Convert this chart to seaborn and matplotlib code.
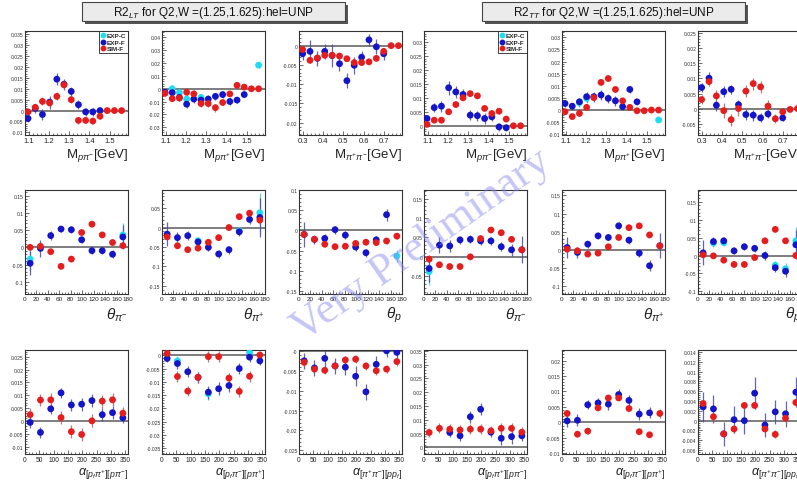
import numpy as np
import pandas as pd
import matplotlib
matplotlib.use('Agg')
import matplotlib.pyplot as plt
import seaborn as sns
from matplotlib import font_manager
from matplotlib.lines import Line2D
from matplotlib.patches import Rectangle
from matplotlib.ticker import MultipleLocator, AutoMinorLocator, FuncFormatter

# ---- bins ----
m_ppi_bins = [1.097, 1.1325, 1.168, 1.2035, 1.239, 1.2745, 1.31, 1.3455, 1.381, 1.4165, 1.452, 1.4875, 1.523, 1.5585]
m_pipi_bins = [0.298, 0.3345, 0.371, 0.4075, 0.444, 0.4805, 0.517, 0.5535, 0.59, 0.6265, 0.663, 0.6995, 0.736, 0.7725]
theta_bins = [9, 27, 45, 63, 81, 99, 117, 135, 153, 171]
alpha_bins = [18, 54, 90, 126, 162, 198, 234, 270, 306, 342]

# ---- R2_LT, M(p pi-) ----
lt_mpim_f = [-0.0036, 0.001, -0.0018, 0.0039, 0.0144, 0.0121, 0.0088, 0.0027, -0.0006, -0.0006, 0.0, None, None, None]
lt_mpim_f_err = [0.0015, 0.002, 0.0025, 0.003, 0.0028, 0.0025, 0.002, 0.002, 0.0018, 0.0018, 0.0015, 0, 0, 0]
lt_mpim_sim = [-0.0006, 0.0015, 0.0042, 0.0035, 0.0065, 0.0118, 0.005, -0.0045, -0.0045, -0.0048, -0.0026, 0.0, 0.0, 0.0]
lt_mpim_sim_err = [0.001, 0.0015, 0.0018, 0.002, 0.0018, 0.0018, 0.0015, 0.0015, 0.0012, 0.0015, 0.0012, 0.0005, 0.0003, 0.0003]
lt_mpim_c = [None] * 14

# ---- R2_LT, M(p pi+) ----
lt_mpip_f = [-0.0027, -0.003, -0.0067, -0.012, -0.008, -0.0088, -0.008, -0.0059, -0.0045, -0.0099, -0.0088, -0.0045, None, None]
lt_mpip_f_err = [0.002, 0.003, 0.003, 0.003, 0.003, 0.003, 0.003, 0.003, 0.003, 0.003, 0.002, 0.002, 0, 0.002]
lt_mpip_sim = [-0.0035, -0.0077, -0.0072, -0.0027, -0.004, -0.0115, -0.0115, -0.0147, -0.0107, -0.004, 0.0027, 0.0013, 0.0, 0.0]
lt_mpip_sim_err = [0.002, 0.002, 0.002, 0.003, 0.003, 0.003, 0.003, 0.003, 0.002, 0.002, 0.0015, 0.001, 0.0005, 0.0005]
lt_mpip_c = [None, 0.0, -0.003, -0.008, None, -0.0067, None, None, None, None, None, None, None, 0.0184]

# ---- R2_LT, M(pi+ pi-) ----
lt_mpipi_f = [-0.0021, -0.0015, -0.0033, -0.0015, -0.0026, -0.0047, -0.0091, -0.0051, -0.003, 0.0015, -0.0003, -0.0021, None, None]
lt_mpipi_f_err = [0.0015, 0.003, 0.002, 0.002, 0.003, 0.002, 0.002, 0.0022, 0.0015, 0.0015, 0.002, 0.0015, 0, 0]
lt_mpipi_sim = [-0.001, -0.0038, -0.0032, -0.0025, -0.0025, -0.0027, -0.0034, -0.0044, -0.0044, -0.0042, -0.0033, -0.0015, 0.0, 0.0]
lt_mpipi_sim_err = [0.001, 0.0008, 0.0008, 0.0008, 0.0008, 0.0006, 0.0006, 0.0006, 0.0006, 0.0006, 0.0006, 0.0008, 0.0003, 0.0003]
lt_mpipi_c = [None] * 14

# ---- R2_TT, M(p pi-) ----
tt_mpim_f = [0.0026, 0.0065, 0.007, 0.0136, 0.0121, 0.0112, 0.0038, 0.0036, 0.0026, 0.0032, -0.0004, -0.0007, None, None]
tt_mpim_f_err = [0.0012, 0.0015, 0.002, 0.0025, 0.0022, 0.002, 0.0018, 0.0018, 0.0018, 0.0015, 0.0015, 0.0012, 0, 0]
tt_mpim_sim = [0.0005, 0.002, 0.002, 0.005, 0.0076, 0.01, 0.0115, 0.0107, 0.0062, 0.0044, 0.0052, 0.0024, 0.0, 0.0]
tt_mpim_sim_err = [0.0005, 0.0006, 0.0006, 0.0008, 0.0008, 0.0008, 0.0007, 0.0007, 0.0007, 0.0007, 0.0007, 0.0006, 0.0003, 0.0003]
tt_mpim_c = [None] * 14

# ---- R2_TT, M(p pi+) ----
tt_mpip_f = [0.0027, 0.0016, 0.0034, 0.0055, 0.0055, 0.0062, 0.0048, 0.0038, 0.0014, 0.0085, 0.0034, None, None, None]
tt_mpip_f_err = [0.0015, 0.0015, 0.0017, 0.002, 0.002, 0.002, 0.002, 0.002, 0.0015, 0.0015, 0.0012, 0, 0, 0.0008]
tt_mpip_sim = [-0.0007, -0.0027, -0.0014, 0.0011, 0.0051, 0.0114, 0.013, 0.0085, 0.0038, 0.0011, -0.0003, -0.0003, 0.0, 0.0]
tt_mpip_sim_err = [0.0008, 0.0008, 0.001, 0.001, 0.001, 0.001, 0.0009, 0.001, 0.0009, 0.0008, 0.0006, 0.0005, 0.0003, 0.0003]
tt_mpip_c = [None, None, 0.003, 0.0048, None, None, None, None, None, None, None, None, None, -0.0041]

# ---- R2_TT, M(pi+ pi-) ----
tt_mpipi_f = [0.007, 0.0101, 0.0011, 0.0056, 0.0064, 0.0013, -0.002, -0.0022, -0.0031, -0.0018, None, -0.0031, None, None]
tt_mpipi_f_err = [0.0015, 0.002, 0.0018, 0.0018, 0.0015, 0.0015, 0.0018, 0.0018, 0.0015, 0.0015, 0, 0.0012, 0, 0]
tt_mpipi_sim = [0.003, 0.009, 0.0042, -0.0007, -0.0037, 0.0, 0.0058, 0.0083, 0.0072, 0.0008, -0.0034, -0.0011, -0.0003, 0.0]
tt_mpipi_sim_err = [0.0015, 0.0015, 0.002, 0.0025, 0.002, 0.0025, 0.002, 0.002, 0.002, 0.002, 0.0015, 0.0012, 0.0005, 0.0003]
tt_mpipi_c = [None] * 14

# ---- R2_LT, theta ----
lt_thpim_f = [-0.046, -0.003, 0.034, 0.053, 0.051, 0.022, -0.0096, -0.0096, -0.02, 0.03]
lt_thpim_f_err = [0.035, 0.025, 0.012, 0.01, 0.01, 0.01, 0.01, 0.01, 0.012, 0.035]
lt_thpim_sim = [0.0, 0.003, -0.0125, -0.055, -0.034, 0.043, 0.067, 0.036, 0.014, 0.005]
lt_thpim_sim_err = [0.005] * 10
lt_thpim_c = [-0.034, None, None, None, None, None, None, None, None, 0.036]

lt_thpip_f = [-0.017, -0.026, -0.021, -0.037, -0.051, -0.068, -0.057, -0.011, 0.021, 0.026]
lt_thpip_f_err = [0.03, 0.015, 0.012, 0.01, 0.01, 0.01, 0.01, 0.01, 0.012, 0.05]
lt_thpip_sim = [-0.024, -0.047, -0.057, -0.053, -0.038, -0.026, 0.0, 0.028, 0.037, 0.019]
lt_thpip_sim_err = [0.006] * 10
lt_thpip_c = [None, None, None, -0.034, None, None, None, -0.0085, None, 0.038]

lt_thp_f = [-0.0098, -0.022, -0.0197, 0.002, -0.0115, -0.041, -0.055, -0.023, 0.039, None]
lt_thp_f_err = [0.03, 0.012, 0.01, 0.01, 0.01, 0.01, 0.01, 0.01, 0.015, 0.015]
lt_thp_sim = [-0.0098, -0.022, -0.034, -0.04, -0.039, -0.032, -0.029, -0.03, -0.026, -0.014]
lt_thp_sim_err = [0.007] * 10
lt_thp_c = [None, None, None, None, None, None, None, None, None, -0.063]

# ---- R2_TT, theta ----
tt_thpim_f = [-0.03, 0.03, 0.028, 0.0436, 0.045, 0.041, 0.041, 0.026, 0.018, 0.018]
tt_thpim_f_err = [0.035, 0.02, 0.015, 0.01, 0.01, 0.01, 0.01, 0.012, 0.015, 0.035]
tt_thpim_sim = [-0.006, -0.0205, -0.025, -0.025, 0.0, 0.047, 0.069, 0.062, 0.045, 0.018]
tt_thpim_sim_err = [0.005] * 10
tt_thpim_c = [-0.038, None, None, None, None, None, None, None, None, None]

tt_thpip_f = [0.0064, -0.0073, 0.0156, 0.0385, 0.034, 0.066, 0.0266, -0.0092, -0.044, 0.011]
tt_thpip_f_err = [0.03, 0.015, 0.01, 0.008, 0.008, 0.01, 0.01, 0.01, 0.015, 0.035]
tt_thpip_sim = [0.0018, -0.0028, -0.012, -0.0092, 0.0083, 0.034, 0.061, 0.066, 0.041, 0.011]
tt_thpip_sim_err = [0.006] * 10
tt_thpip_c = [None] * 10

tt_thp_f = [0.0075, 0.039, 0.041, 0.013, 0.0245, 0.02, 0.0, -0.034, -0.044, 0.03]
tt_thp_f_err = [0.035, 0.012, 0.01, 0.01, 0.01, 0.01, 0.012, 0.012, 0.015, 0.04]
tt_thp_sim = [0.002, -0.001, -0.013, -0.025, -0.025, -0.0057, 0.041, 0.073, 0.041, 0.0]
tt_thp_sim_err = [0.006] * 10
tt_thp_c = [None, 0.035, 0.036, None, None, None, None, -0.027, -0.037, 0.041]

# ---- R2_LT, alpha ----
lt_a1_f = [-0.0006, -0.0045, 0.0047, 0.0109, 0.0062, 0.0065, 0.0079, 0.0024, 0.0032, 0.0012]
lt_a1_f_err = [0.002, 0.002, 0.002, 0.002, 0.0025, 0.0025, 0.0025, 0.0025, 0.0025, 0.002]
lt_a1_sim = [0.0024, 0.0081, 0.0082, 0.0013, -0.0042, -0.0053, 0.0, 0.0077, 0.0082, 0.003]
lt_a1_sim_err = [0.0025] * 10
lt_a1_c = [None] * 10

lt_a2_f = [-0.0012, -0.0031, -0.0062, -0.0083, -0.0139, -0.0126, -0.0114, -0.005, -0.0007, -0.0021]
lt_a2_f_err = [0.0015, 0.002, 0.002, 0.002, 0.0025, 0.0025, 0.0025, 0.0022, 0.002, 0.0015]
lt_a2_sim = [0.0007, -0.008, -0.0135, -0.0083, -0.0005, -0.0005, -0.0086, -0.0136, -0.0079, 0.0001]
lt_a2_sim_err = [0.0015, 0.002, 0.002, 0.002, 0.002, 0.002, 0.002, 0.002, 0.002, 0.0015]
lt_a2_c = [None, -0.0021, None, None, -0.0145, None, None, None, 0.001, None]

lt_a3_f = [-0.0025, -0.0043, -0.0019, -0.0038, -0.0041, -0.0064, -0.0103, -0.0034, 0.0, -0.0004]
lt_a3_f_err = [0.002, 0.002, 0.0025, 0.002, 0.002, 0.0025, 0.002, 0.002, 0.0015, 0.0015]
lt_a3_sim = [-0.0029, -0.0046, -0.0049, -0.0038, -0.0023, -0.0021, -0.0038, -0.005, -0.0046, -0.0027]
lt_a3_sim_err = [0.001] * 10
lt_a3_c = [None] * 10

# ---- R2_TT, alpha ----
tt_a1_f = [None, None, 0.0054, 0.0042, 0.0111, 0.0138, 0.0055, 0.0033, 0.0039, 0.0042]
tt_a1_f_err = [0, 0, 0.0018, 0.0018, 0.0022, 0.0022, 0.0018, 0.0025, 0.0025, 0.002]
tt_a1_sim = [0.0054, 0.0069, 0.0066, 0.0063, 0.0066, 0.0066, 0.006, 0.0069, 0.0069, 0.0055]
tt_a1_sim_err = [0.0018] * 10
tt_a1_c = [None] * 10

tt_a2_f = [0.0005, 0.0007, 0.0057, 0.0063, 0.0059, 0.009, 0.0071, 0.0027, 0.0031, None]
tt_a2_f_err = [0.002, 0.002, 0.0015, 0.0015, 0.0018, 0.0018, 0.0018, 0.002, 0.0018, 0]
tt_a2_sim = [0.0029, -0.0038, -0.0028, 0.0047, 0.0079, 0.0079, 0.0045, -0.003, -0.004, 0.0029]
tt_a2_sim_err = [0.0008, 0.0008, 0.0008, 0.0008, 0.0008, 0.0008, 0.0008, 0.0008, 0.0008, 0.0015]
tt_a2_c = [None] * 10

tt_a3_f = [0.0028, 0.0024, -0.0027, 0.0002, 0.0, 0.0056, -0.0009, 0.0018, 0.0014, 0.0058]
tt_a3_f_err = [0.003, 0.0028, 0.0025, 0.0027, 0.0028, 0.0033, 0.0025, 0.0025, 0.0027, 0.003]
tt_a3_sim = [0.0035, 0.0008, -0.0027, -0.0017, 0.0031, 0.0031, -0.0017, -0.0028, 0.0005, 0.0037]
tt_a3_sim_err = [0.0008] * 10
tt_a3_c = [None] * 10

xlabels_mass = [r'M$_{p\pi^{-}}$[GeV]', r'M$_{p\pi^{+}}$[GeV]', r'M$_{\pi^{+}\pi^{-}}$[GeV]']
xlabels_theta = [r'$\theta_{\pi^{-}}$', r'$\theta_{\pi^{+}}$', r'$\theta_{p}$']
xlabels_alpha = [r'$\alpha_{[p_{f}\pi^{+}][p\pi^{-}]}$', r'$\alpha_{[p_{f}\pi^{-}][p\pi^{+}]}$',
                 r'$\alpha_{[\pi^{+}\pi^{-}][pp_{f}]}$']
titles = [r'R2$_{LT}$ for Q2,W =(1.25,1.625):hel=UNP', r'R2$_{TT}$ for Q2,W =(1.25,1.625):hel=UNP']
series_names = ['EXP-C', 'EXP-F', 'SIM-F']

# ---- style ----
sns.set_style('ticks')
names = {f.name for f in font_manager.fontManager.ttflist}
BASE = 'Liberation Sans Narrow' if 'Liberation Sans Narrow' in names else 'Liberation Sans'
plt.rcParams['font.family'] = [BASE, 'DejaVu Sans']
plt.rcParams['mathtext.fontset'] = 'custom'
plt.rcParams['mathtext.rm'] = BASE
plt.rcParams['mathtext.it'] = BASE + ':italic'
plt.rcParams['mathtext.sf'] = BASE

COLORS = {'EXP-C': '#20dcf0', 'EXP-F': '#1414c8', 'SIM-F': '#e41e1e'}
ERRC = {'EXP-C': '#40c8e0', 'EXP-F': '#4a4aa8', 'SIM-F': '#b06060'}

W, H = 797, 485
COL_LEFT = [25, 162, 299, 424, 562, 698]
ROW_TOP = [32, 191, 351]
AW, AH = 103, 104

mass_rng = (1.082, 1.59)
pipi_rng = (0.28, 0.79)
mass_ticks = [1.1, 1.2, 1.3, 1.4, 1.5]
pipi_ticks = [0.3, 0.4, 0.5, 0.6, 0.7]
theta_ticks = list(range(0, 181, 20))
alpha_ticks = list(range(0, 351, 50))

panels = [
    # row, col, x, f, ferr, sim, simerr, c, xlim, xticks, ylim, ystep, xlabel
    (0, 0, m_ppi_bins, lt_mpim_f, lt_mpim_f_err, lt_mpim_sim, lt_mpim_sim_err, lt_mpim_c, mass_rng, mass_ticks, (-0.0112, 0.0365), 0.005, xlabels_mass[0]),
    (0, 1, m_ppi_bins, lt_mpip_f, lt_mpip_f_err, lt_mpip_sim, lt_mpip_sim_err, lt_mpip_c, mass_rng, mass_ticks, (-0.036, 0.045), 0.01, xlabels_mass[1]),
    (0, 2, m_pipi_bins, lt_mpipi_f, lt_mpipi_f_err, lt_mpipi_sim, lt_mpipi_sim_err, lt_mpipi_c, pipi_rng, pipi_ticks, (-0.0232, 0.0038), 0.005, xlabels_mass[2]),
    (0, 3, m_ppi_bins, tt_mpim_f, tt_mpim_f_err, tt_mpim_sim, tt_mpim_sim_err, tt_mpim_c, mass_rng, mass_ticks, (-0.0033, 0.0339), 0.005, xlabels_mass[0]),
    (0, 4, m_ppi_bins, tt_mpip_f, tt_mpip_f_err, tt_mpip_sim, tt_mpip_sim_err, tt_mpip_c, mass_rng, mass_ticks, (-0.0103, 0.0326), 0.005, xlabels_mass[1]),
    (0, 5, m_pipi_bins, tt_mpipi_f, tt_mpipi_f_err, tt_mpipi_sim, tt_mpipi_sim_err, tt_mpipi_c, pipi_rng, pipi_ticks, (-0.0088, 0.0258), 0.005, xlabels_mass[2]),
    (1, 0, theta_bins, lt_thpim_f, lt_thpim_f_err, lt_thpim_sim, lt_thpim_sim_err, lt_thpim_c, (0, 180), theta_ticks, (-0.135, 0.166), 0.05, xlabels_theta[0]),
    (1, 1, theta_bins, lt_thpip_f, lt_thpip_f_err, lt_thpip_sim, lt_thpip_sim_err, lt_thpip_c, (0, 180), theta_ticks, (-0.171, 0.0966), 0.05, xlabels_theta[1]),
    (1, 2, theta_bins, lt_thp_f, lt_thp_f_err, lt_thp_sim, lt_thp_sim_err, lt_thp_c, (0, 180), theta_ticks, (-0.157, 0.1), 0.05, xlabels_theta[2]),
    (1, 3, theta_bins, tt_thpim_f, tt_thpim_f_err, tt_thpim_sim, tt_thpim_sim_err, tt_thpim_c, (0, 180), theta_ticks, (-0.0957, 0.172), 0.05, xlabels_theta[0]),
    (1, 4, theta_bins, tt_thpip_f, tt_thpip_f_err, tt_thpip_sim, tt_thpip_sim_err, tt_thpip_c, (0, 180), theta_ticks, (-0.122, 0.165), 0.05, xlabels_theta[1]),
    (1, 5, theta_bins, tt_thp_f, tt_thp_f_err, tt_thp_sim, tt_thp_sim_err, tt_thp_c, (0, 180), theta_ticks, (-0.1075, 0.183), 0.05, xlabels_theta[2]),
    (2, 0, alpha_bins, lt_a1_f, lt_a1_f_err, lt_a1_sim, lt_a1_sim_err, lt_a1_c, (0, 360), alpha_ticks, (-0.0129, 0.0276), 0.005, xlabels_alpha[0]),
    (2, 1, alpha_bins, lt_a2_f, lt_a2_f_err, lt_a2_sim, lt_a2_sim_err, lt_a2_c, (0, 360), alpha_ticks, (-0.0372, 0.002), 0.005, xlabels_alpha[1]),
    (2, 2, alpha_bins, lt_a3_f, lt_a3_f_err, lt_a3_sim, lt_a3_sim_err, lt_a3_c, (0, 360), alpha_ticks, (-0.0259, 0.0002), 0.005, xlabels_alpha[2]),
    (2, 3, alpha_bins, tt_a1_f, tt_a1_f_err, tt_a1_sim, tt_a1_sim_err, tt_a1_c, (0, 360), alpha_ticks, (-0.0024, 0.0353), 0.005, xlabels_alpha[0]),
    (2, 4, alpha_bins, tt_a2_f, tt_a2_f_err, tt_a2_sim, tt_a2_sim_err, tt_a2_c, (0, 360), alpha_ticks, (-0.0102, 0.0234), 0.005, xlabels_alpha[1]),
    (2, 5, alpha_bins, tt_a3_f, tt_a3_f_err, tt_a3_sim, tt_a3_sim_err, tt_a3_c, (0, 360), alpha_ticks, (-0.0068, 0.0144), 0.002, xlabels_alpha[2]),
]

XLABEL_SIZE = [9.5, 11.0, 9.0]
XTICK_SIZE = [5.5, 4.6, 4.8]


def fmt_y(v, _):
    return '%g' % round(v, 6)


fig = plt.figure(figsize=(W / 100, H / 100), dpi=100)
fig.patch.set_facecolor('white')

for row, col, x, f, ferr, sim, simerr, c, xlim, xticks, ylim, ystep, xlabel in panels:
    left = COL_LEFT[col]
    top = ROW_TOP[row]
    ax = fig.add_axes([left / W, 1 - (top + AH) / H, AW / W, AH / H])

    frames = []
    for name, vals, errs in [('EXP-C', c, ferr), ('EXP-F', f, ferr), ('SIM-F', sim, simerr)]:
        d = pd.DataFrame({'x': x, 'y': pd.to_numeric(pd.Series(vals, dtype='object'), errors='coerce'),
                          'err': errs, 'series': name}).dropna(subset=['y'])
        frames.append(d)
    df = pd.concat(frames, ignore_index=True)

    ax.axhline(0, color='#5a5a5a', lw=1.1, zorder=1)
    for name in series_names:
        d = df[df['series'] == name]
        if len(d):
            ax.errorbar(d['x'], d['y'], yerr=d['err'], fmt='none', ecolor=ERRC[name],
                        elinewidth=0.9, capsize=0, zorder=2, alpha=0.85)
    sns.scatterplot(data=df, x='x', y='y', hue='series', hue_order=series_names, palette=COLORS,
                    s=24, edgecolor='none', linewidth=0, legend=False, ax=ax, zorder=3)

    ax.set_xlim(*xlim)
    ax.set_ylim(*ylim)
    ax.set_xticks(xticks)
    ax.xaxis.set_minor_locator(AutoMinorLocator(5 if row == 0 else 4))
    ax.yaxis.set_major_locator(MultipleLocator(ystep))
    ax.yaxis.set_minor_locator(AutoMinorLocator(5))
    ax.yaxis.set_major_formatter(FuncFormatter(fmt_y))
    ax.set_xlabel('')
    ax.set_ylabel('')
    ax.tick_params(axis='both', which='both', direction='in', top=False, right=False, width=0.5, color='#333333')
    ax.tick_params(axis='both', which='major', length=3)
    ax.tick_params(axis='both', which='minor', length=1.5)
    ax.tick_params(axis='x', labelsize=XTICK_SIZE[row], pad=1.5, labelcolor='#222222')
    ax.tick_params(axis='y', labelsize=3.6, pad=1.0, labelcolor='#333333')
    for sp in ax.spines.values():
        sp.set_visible(True)
        sp.set_linewidth(0.8)
        sp.set_color('#333333')

    ax.annotate(xlabel, xy=(1, 0), xycoords='axes fraction', xytext=(0, -8), textcoords='offset points',
                ha='right', va='top', fontsize=XLABEL_SIZE[row], color='#222222')

    if row == 0 and col in (0, 3):
        handles = [Line2D([], [], marker='o', ls='', color=COLORS[n], markersize=3.2) for n in series_names]
        leg = ax.legend(handles, series_names, loc='upper right', frameon=True, fancybox=False,
                        edgecolor='#222222', framealpha=1, borderaxespad=0, handletextpad=0.1, borderpad=0.3,
                        labelspacing=0.15, handlelength=0.8, prop={'weight': 'bold', 'size': 4.6})
        leg.get_frame().set_linewidth(0.6)

# title boxes
for i, title in enumerate(titles):
    x0 = 82 + i * 400
    bw, bh = 263, 19
    y0 = 3
    fig.patches.append(Rectangle(((x0 + 3) / W, 1 - (y0 + bh + 3) / H), bw / W, bh / H,
                                 transform=fig.transFigure, facecolor='#555555', edgecolor='none', zorder=1))
    fig.patches.append(Rectangle((x0 / W, 1 - (y0 + bh) / H), bw / W, bh / H,
                                 transform=fig.transFigure, facecolor='#ebebeb', edgecolor='#444444',
                                 linewidth=0.8, zorder=2))
    fig.text((x0 + bw / 2) / W, 1 - (y0 + bh / 2 + 0.5) / H, title, ha='center', va='center',
             fontsize=8.5, color='#111111', zorder=3)

# watermark
fig.text(422 / W, 1 - 245 / H, 'Very Preliminary', rotation=35, fontsize=32,
         family=['Liberation Serif', 'DejaVu Serif'], color='#8c8cf0', alpha=0.5,
         ha='center', va='center', zorder=20)

fig.savefig('out.png', dpi=100, facecolor='white')
